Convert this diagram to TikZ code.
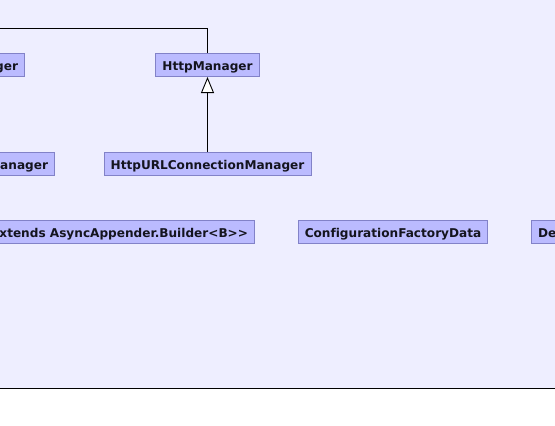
\documentclass[tikz,border=0pt]{standalone}
\usepackage{fontspec}
\setmainfont{DejaVu Sans}[Ligatures=NoCommon]
\usetikzlibrary{arrows.meta}
\definecolor{bgc}{RGB}{238,238,255}
\definecolor{boxfill}{RGB}{187,187,255}
\definecolor{boxdraw}{RGB}{130,130,200}
\definecolor{baseline}{RGB}{160,160,190}
\definecolor{txt}{RGB}{20,20,30}
\tikzset{
  cls/.style={draw=boxdraw, fill=boxfill, line width=1pt, inner xsep=6.5pt, inner ysep=0pt,
    text height=17pt, text depth=6pt, text=txt, font=\fontsize{12.1}{14}\selectfont\bfseries},
  conn/.style={draw=black, line width=0.9pt},
  inh/.style={conn, -{Triangle[open, length=16pt, width=13pt, fill=white]}}
}
\begin{document}
\begin{tikzpicture}[x=1pt, y=-1pt]
\useasboundingbox (0,0) rectangle (555,426);
\clip (0,0) rectangle (555,426);
\fill[white] (0,0) rectangle (555,426);
\fill[bgc] (0,0) rectangle (555,388);
\draw[baseline, line width=1pt] (0,388) -- (555,388);

\node[cls, anchor=east] (ger) at (25,65) {ger};
\node[cls, minimum width=101pt] (hm) at (207.5,65) {HttpManager};
\node[cls, anchor=east] (anager) at (55,163.5) {anager};
\node[cls, minimum width=207pt] (hucm) at (207.5,163.5) {HttpURLConnectionManager};
\node[cls, anchor=east] (aab) at (255,231.5) {xtends AsyncAppender.Builder<B>{}>};
\node[cls, minimum width=188pt] (cfd) at (393,231.5) {ConfigurationFactoryData};
\node[cls, anchor=west] (de) at (531,231.5) {De};

\coordinate (lineend) at (-10,28);
\draw[conn] (lineend) -- (hm.north |- lineend) -- (hm.north);
\draw[inh] (hucm.north) -- (hm.south);
\end{tikzpicture}
\end{document}
